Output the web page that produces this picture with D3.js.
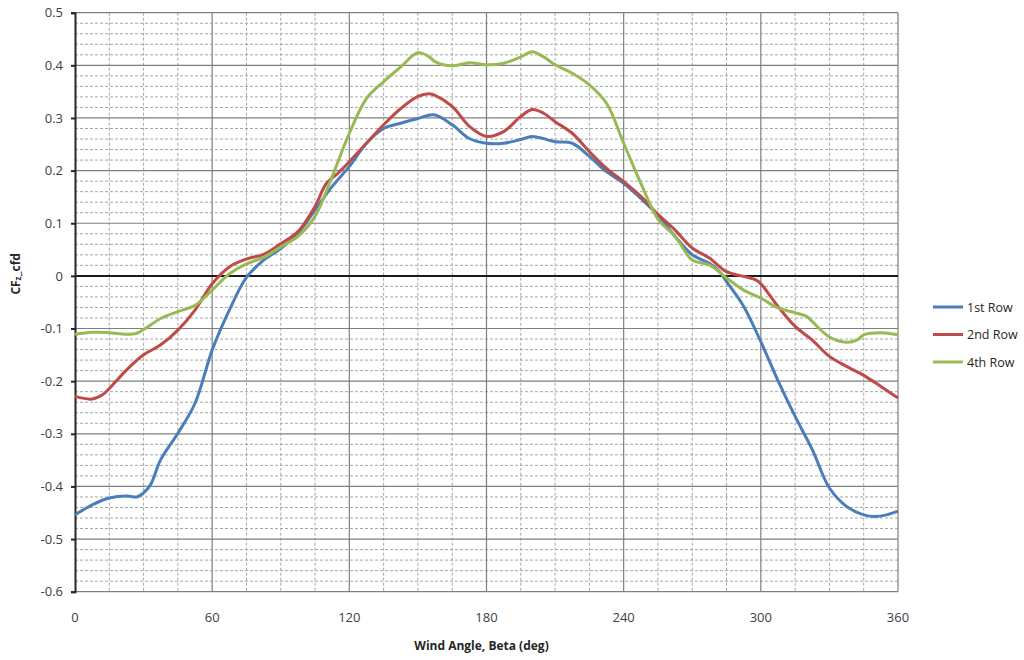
<!DOCTYPE html>
<html>
<head>
<meta charset="utf-8">
<script src="https://cdn.jsdelivr.net/npm/d3@7"></script>
<style>
  body { margin: 0; background: #fff; font-family: "Open Sans", "DejaVu Sans", sans-serif; }
</style>
</head>
<body>
<div id="chart"></div>
<script>
// wind angle (deg) and CFz values per row
const row1Angles = [0, 7.5, 15, 22.5, 27, 30, 33, 37.5, 45, 52.5, 60, 67.5, 75, 82.5, 90, 97.5, 105, 112.5, 120, 127.5, 135, 142.5, 150, 157, 165, 172.5, 180, 187.5, 195, 200, 210, 217.5, 225, 232.5, 240, 247.5, 255, 262.5, 270, 277.5, 282, 285, 292.5, 300, 307.5, 315, 322.5, 330, 337.5, 345, 350, 355, 360];
const row1Values = [-0.454, -0.435, -0.422, -0.418, -0.42, -0.412, -0.397, -0.349, -0.299, -0.242, -0.141, -0.065, -0.003, 0.03, 0.052, 0.081, 0.125, 0.17, 0.208, 0.252, 0.28, 0.29, 0.299, 0.306, 0.287, 0.261, 0.252, 0.252, 0.259, 0.265, 0.255, 0.252, 0.227, 0.198, 0.176, 0.147, 0.115, 0.075, 0.04, 0.024, 0.008, -0.011, -0.058, -0.125, -0.199, -0.267, -0.33, -0.403, -0.438, -0.454, -0.457, -0.454, -0.447];

const row2Angles = [0, 7.5, 12, 15, 22.5, 30, 37.5, 45, 52.5, 60, 67.5, 75, 82.5, 90, 97.5, 105, 110, 115, 120, 127.5, 135, 142.5, 150, 155, 157.5, 165, 172.5, 180, 187.5, 195, 200, 205, 210, 217.5, 225, 232.5, 240, 247.5, 255, 262.5, 270, 277.5, 285, 292.5, 298, 300, 307.5, 315, 322.5, 330, 337.5, 345, 352.5, 360];
const row2Values = [-0.229, -0.234, -0.226, -0.214, -0.179, -0.15, -0.131, -0.103, -0.065, -0.015, 0.017, 0.032, 0.041, 0.061, 0.084, 0.132, 0.176, 0.195, 0.217, 0.252, 0.287, 0.318, 0.341, 0.346, 0.343, 0.322, 0.284, 0.265, 0.274, 0.303, 0.316, 0.309, 0.293, 0.271, 0.236, 0.204, 0.179, 0.151, 0.117, 0.087, 0.053, 0.034, 0.008, -0.001, -0.008, -0.015, -0.058, -0.096, -0.122, -0.153, -0.172, -0.189, -0.21, -0.232];

const row4Angles = [0, 7.5, 15, 22.5, 27, 30, 37.5, 45, 52.5, 60, 67.5, 75, 82.5, 90, 97.5, 105, 112.5, 120, 127.5, 135, 142.5, 150, 155, 157.5, 165, 172.5, 180, 187.5, 195, 200, 205, 210, 217.5, 225, 232.5, 240, 247.5, 255, 262.5, 270, 277.5, 285, 292.5, 300, 307.5, 315, 320, 322.5, 330, 337.5, 342, 345, 352.5, 360];
const row4Values = [-0.111, -0.107, -0.108, -0.111, -0.109, -0.102, -0.081, -0.068, -0.056, -0.027, 0.004, 0.023, 0.035, 0.055, 0.075, 0.113, 0.189, 0.271, 0.337, 0.369, 0.397, 0.424, 0.416, 0.407, 0.399, 0.405, 0.401, 0.404, 0.416, 0.426, 0.416, 0.401, 0.385, 0.363, 0.328, 0.252, 0.176, 0.108, 0.075, 0.03, 0.021, -0.004, -0.027, -0.042, -0.061, -0.07, -0.077, -0.087, -0.116, -0.126, -0.122, -0.112, -0.108, -0.112];

const seriesNames = ["1st Row", "2nd Row", "4th Row"];
const seriesColors = ["#4a7ebb", "#be4b48", "#98b954"];
const xTicks = [0, 60, 120, 180, 240, 300, 360];
const yTicks = [0.5, 0.4, 0.3, 0.2, 0.1, 0, -0.1, -0.2, -0.3, -0.4, -0.5, -0.6];

const series = [
  { name: seriesNames[0], color: seriesColors[0], pts: row1Angles.map((a, i) => [a, row1Values[i]]) },
  { name: seriesNames[1], color: seriesColors[1], pts: row2Angles.map((a, i) => [a, row2Values[i]]) },
  { name: seriesNames[2], color: seriesColors[2], pts: row4Angles.map((a, i) => [a, row4Values[i]]) }
];

const width = 1024, height = 660;
const margin = { top: 12.7, right: 126, bottom: 68.3, left: 75 };
const w = width - margin.left - margin.right;
const h = height - margin.top - margin.bottom;

const svg = d3.select("#chart").append("svg")
  .attr("width", width)
  .attr("height", height);

const g = svg.append("g")
  .attr("transform", `translate(${margin.left},${margin.top})`);

const x = d3.scaleLinear().domain([0, 360]).range([0, w]);
const y = d3.scaleLinear().domain([-0.6, 0.5]).range([h, 0]);

// minor grid (dashed)
const minorX = d3.range(0, 361, 15).filter(d => d % 60 !== 0);
const minorY = d3.range(-60, 51, 2).filter(d => d % 10 !== 0).map(d => d / 100);

g.selectAll(".minor-y").data(minorY).enter().append("line")
  .attr("x1", 0).attr("x2", w)
  .attr("y1", d => y(d)).attr("y2", d => y(d))
  .attr("stroke", "#a6a6a6").attr("stroke-width", 1)
  .attr("stroke-dasharray", "3,2");

g.selectAll(".minor-x").data(minorX).enter().append("line")
  .attr("x1", d => x(d)).attr("x2", d => x(d))
  .attr("y1", 0).attr("y2", h)
  .attr("stroke", "#a6a6a6").attr("stroke-width", 1)
  .attr("stroke-dasharray", "3,2");

// major grid
g.selectAll(".major-y").data(yTicks.filter(d => d !== 0)).enter().append("line")
  .attr("x1", 0).attr("x2", w)
  .attr("y1", d => y(d)).attr("y2", d => y(d))
  .attr("stroke", "#7f7f7f").attr("stroke-width", 1.2);

g.selectAll(".major-x").data(xTicks.slice(1)).enter().append("line")
  .attr("x1", d => x(d)).attr("x2", d => x(d))
  .attr("y1", 0).attr("y2", h)
  .attr("stroke", "#7f7f7f").attr("stroke-width", 1.2);

// zero line (horizontal axis)
g.append("line")
  .attr("x1", 0).attr("x2", w)
  .attr("y1", y(0)).attr("y2", y(0))
  .attr("stroke", "#1a1a1a").attr("stroke-width", 2);

// y axis
const yAxis = g.append("g")
  .call(d3.axisLeft(y).tickValues(yTicks).tickSize(4).tickPadding(8)
    .tickFormat(d => d === 0 ? "0" : d3.format(".1f")(d).replace("−", "-")));
yAxis.select(".domain").attr("stroke", "#262626").attr("stroke-width", 2);
yAxis.selectAll(".tick line").attr("stroke", "#262626").attr("stroke-width", 2);
yAxis.selectAll("text")
  .style("font-family", "'Open Sans', sans-serif")
  .style("font-size", "13px")
  .attr("fill", "#404040");

// x tick labels below the plot
g.selectAll(".xlab").data(xTicks).enter().append("text")
  .attr("x", d => x(d))
  .attr("y", h + 30)
  .attr("text-anchor", "middle")
  .style("font-size", "13px")
  .attr("fill", "#404040")
  .text(d => d);

// lines
const line = d3.line()
  .x(d => x(d[0]))
  .y(d => y(d[1]))
  .curve(d3.curveCatmullRom.alpha(0.5));

g.selectAll(".series").data(series).enter().append("path")
  .attr("d", d => line(d.pts))
  .attr("fill", "none")
  .attr("stroke", d => d.color)
  .attr("stroke-width", 3)
  .attr("stroke-linejoin", "round");

// axis titles
svg.append("text")
  .attr("x", margin.left + w / 2 - 5)
  .attr("y", 650)
  .attr("text-anchor", "middle")
  .style("font-size", "12px")
  .style("font-weight", "bold")
  .attr("fill", "#262626")
  .text("Wind Angle, Beta (deg)");

const yTitle = svg.append("text")
  .attr("transform", `translate(20,${y(0) + margin.top - 2}) rotate(-90)`)
  .attr("text-anchor", "middle")
  .style("font-size", "12px")
  .style("font-weight", "bold")
  .attr("fill", "#262626");
yTitle.append("tspan").text("CF");
yTitle.append("tspan").style("font-size", "8px").attr("dy", 1).text("z");
yTitle.append("tspan").attr("dy", -1).text("_cfd");

// legend
const legend = svg.append("g").attr("transform", "translate(933,307)");
const li = legend.selectAll("g").data(series).enter().append("g")
  .attr("transform", (d, i) => `translate(0,${i * 27.5})`);
li.append("line")
  .attr("x1", 0).attr("x2", 30)
  .attr("stroke", d => d.color).attr("stroke-width", 3);
li.append("text")
  .attr("x", 34).attr("y", 4.5)
  .style("font-size", "12.5px")
  .attr("fill", "#262626")
  .text(d => d.name);
</script>
</body>
</html>
